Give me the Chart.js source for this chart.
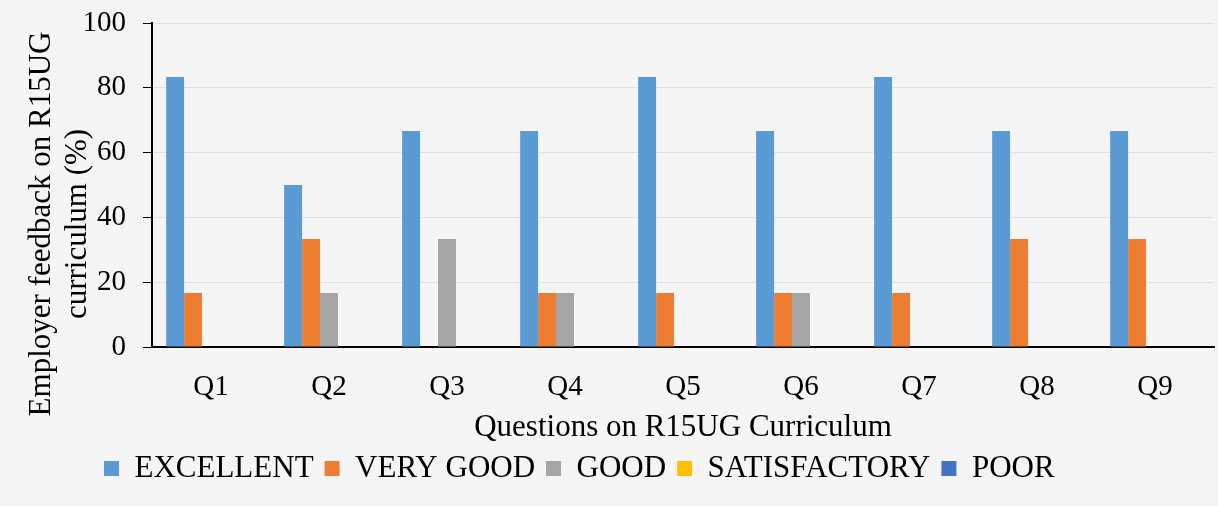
<!DOCTYPE html>
<html>
<head>
<meta charset="utf-8">
<script src="https://cdn.jsdelivr.net/npm/chart.js@4/dist/chart.umd.min.js"></script>
<style>
  html, body { margin: 0; padding: 0; background: #f6f5f6; }
  #wrap { width: 1218px; height: 506px; }
</style>
</head>
<body>
<div id="wrap"><canvas id="myChart"></canvas></div>
<script>
const questions = ["Q1", "Q2", "Q3", "Q4", "Q5", "Q6", "Q7", "Q8", "Q9"];
const excellent = [83.3, 50, 66.7, 66.7, 83.3, 66.7, 83.3, 66.7, 66.7];
const veryGood = [16.7, 33.3, 0, 16.7, 16.7, 16.7, 16.7, 33.3, 33.3];
const good = [0, 16.7, 33.3, 16.7, 0, 16.7, 0, 0, 0];
const satisfactory = [0, 0, 0, 0, 0, 0, 0, 0, 0];
const poor = [0, 0, 0, 0, 0, 0, 0, 0, 0];
const yTicks = [0, 20, 40, 60, 80, 100];
const yTitle = ["Employer feedback on R15UG", "curriculum (%)"];
const xTitle = "Questions on R15UG Curriculum";

const serif = "'Liberation Serif', 'DejaVu Serif', serif";
const ctx = document.getElementById("myChart");

// axis titles drawn by hand so they can sit where the original puts them
const axisTitles = {
  id: "axisTitles",
  afterDraw(chart) {
    const c = chart.ctx;
    const area = chart.chartArea;
    c.save();
    c.fillStyle = "#000";
    c.font = "31px " + serif;
    c.textAlign = "center";
    c.textBaseline = "middle";
    c.fillText(xTitle, (area.left + area.right) / 2, 428);
    c.translate(0, 224);
    c.rotate(-Math.PI / 2);
    c.fillText(yTitle[0], 0, 42);
    c.fillText(yTitle[1], 0, 78);
    c.restore();
  },
};

const config = {
  type: "bar",
  data: {
    labels: questions,
    datasets: [
      { label: "EXCELLENT", data: excellent, backgroundColor: "#5b9bd5" },
      { label: "VERY GOOD", data: veryGood, backgroundColor: "#ed7d31" },
      { label: "GOOD", data: good, backgroundColor: "#a5a5a5" },
      { label: "SATISFACTORY", data: satisfactory, backgroundColor: "#ffc000" },
      { label: "POOR", data: poor, backgroundColor: "#4472c4" },
    ],
  },
  options: {
    responsive: true,
    maintainAspectRatio: false,
    animation: false,
    layout: { padding: { left: 93, right: 4, top: 23, bottom: 12 } },
    datasets: {
      bar: { barPercentage: 1, categoryPercentage: 0.76 },
    },
    scales: {
      x: {
        grid: { display: false },
        border: { color: "#000", width: 2 },
        ticks: { color: "#000", font: { family: serif, size: 29 }, padding: 15 },
        afterFit: (scale) => {
          scale.height = 95;
        },
      },
      y: {
        min: 0,
        max: 100,
        afterBuildTicks: (axis) => {
          axis.ticks = yTicks.map((v) => ({ value: v }));
        },
        afterFit: (scale) => {
          // narrow axis box, labels may spill left of it
          scale.width = 59;
          scale.paddingTop = 0;
          scale._computeLabelArea = () => null;
        },
        grid: {
          color: "#e8dfe5",
          tickColor: "#000",
          tickLength: 9,
          lineWidth: 1,
        },
        border: { color: "#000", width: 2 },
        ticks: { color: "#000", font: { family: serif, size: 29 }, padding: 17 },
      },
    },
    plugins: {
      legend: {
        position: "bottom",
        align: "start",
        labels: {
          color: "#000",
          font: { family: serif, size: 31 },
          boxWidth: 15,
          boxHeight: 15,
          padding: 11,
        },
      },
      tooltip: { enabled: false },
    },
  },
  plugins: [axisTitles],
};
myChart = new Chart(ctx, config);
</script>
</body>
</html>
